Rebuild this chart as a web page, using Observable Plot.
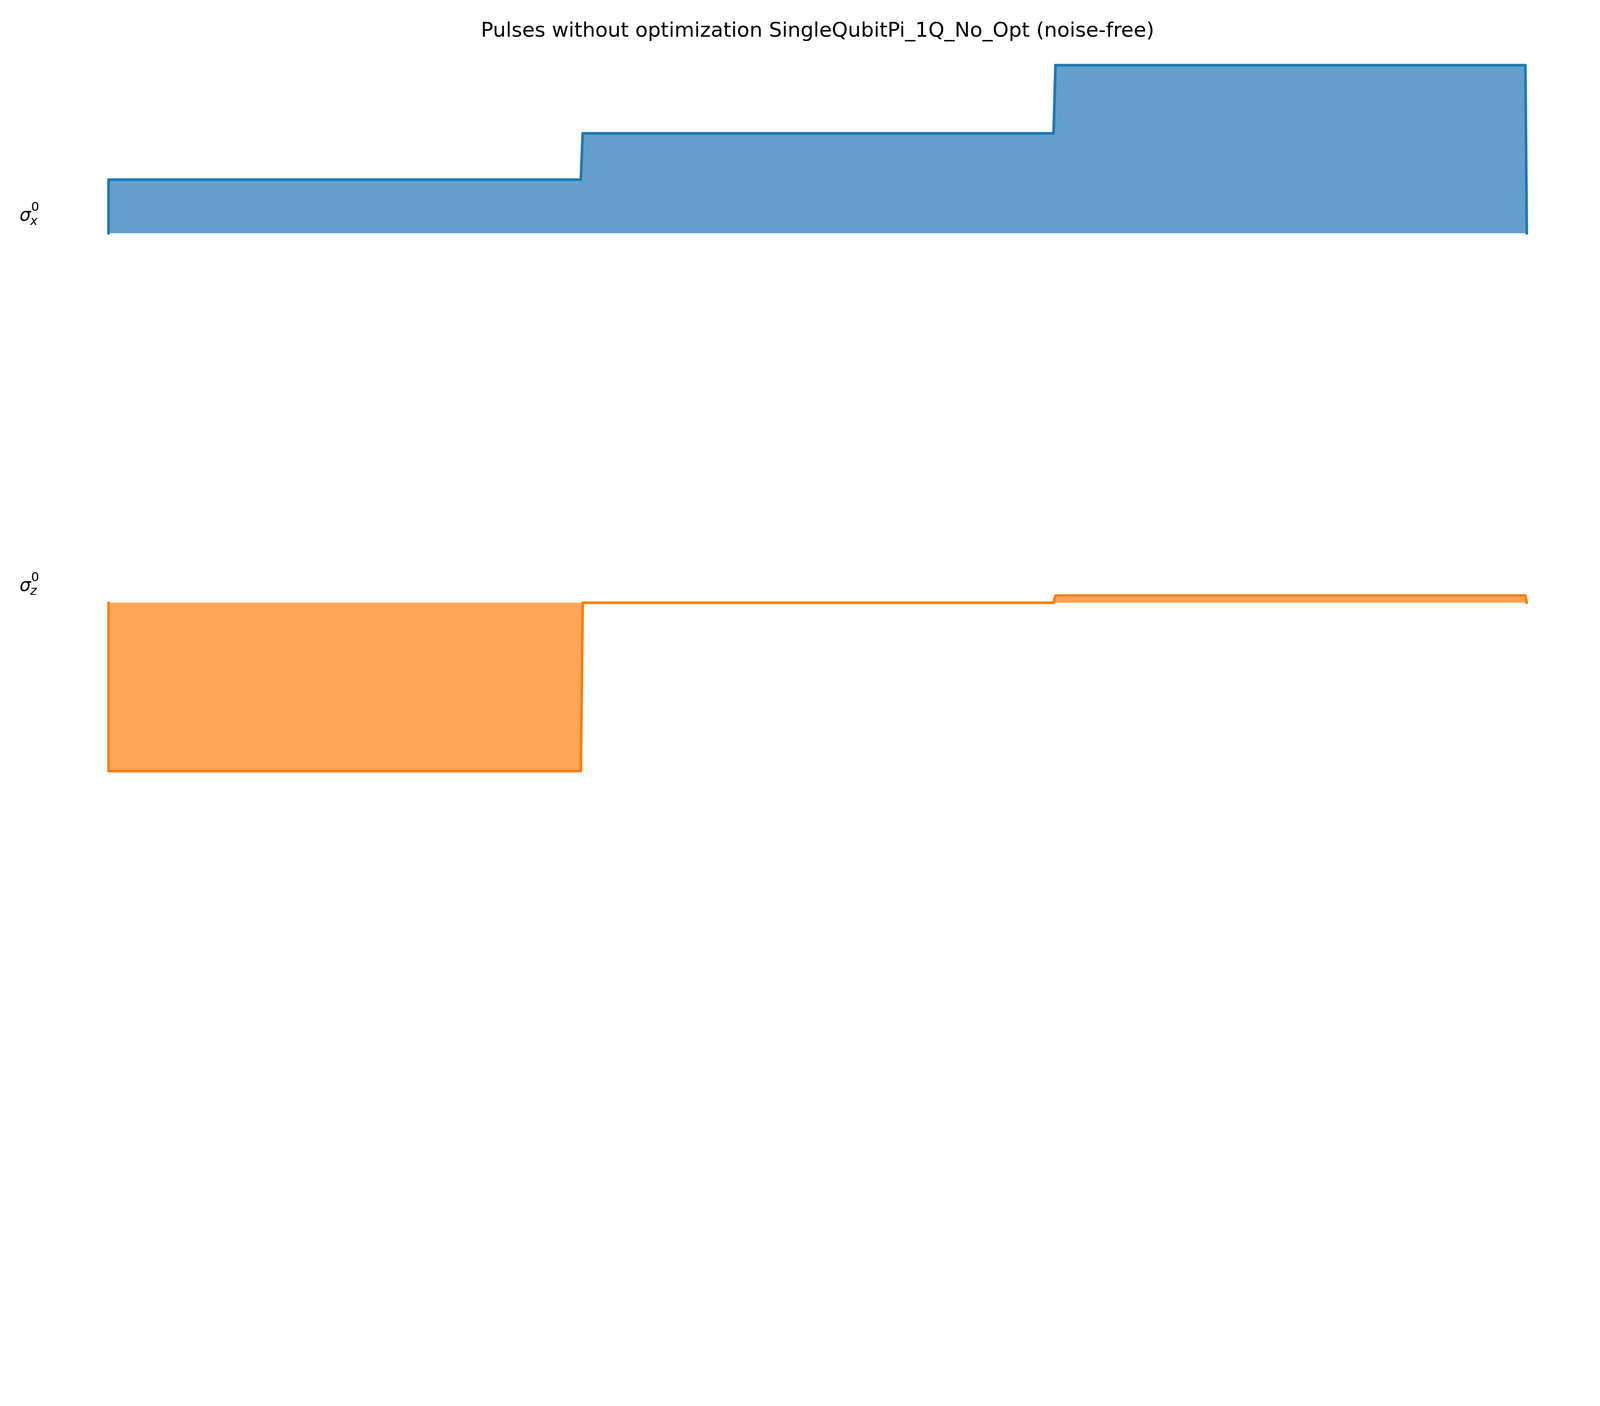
<!DOCTYPE html>
<html>
<head>
<meta charset="utf-8">
<script src="https://cdn.jsdelivr.net/npm/d3@7"></script>
<script src="https://cdn.jsdelivr.net/npm/@observablehq/plot@0.6"></script>
<style>
  html, body { margin: 0; background: #fff; font-family: "DejaVu Sans", sans-serif; overflow: hidden; }
  #wrap { position: absolute; left: 0; top: 0; width: 7200px; height: 3600px; transform-origin: 0 0; }
  #title { position: absolute; left: 488px; width: 6382px; top: 80px; text-align: center; font-size: 92px; }
  .lab { position: absolute; font-family: "DejaVu Sans"; font-size: 80px; font-style: italic; }
  .lab .s { position: absolute; font-style: normal; font-size: 56px; }
  .lab .b { position: absolute; font-size: 56px; }
  #p1 { position: absolute; left: 0; top: 240px; }
  #p2 { position: absolute; left: 0; top: 1800px; }
  #p1 svg, #p2 svg { max-width: none; }
</style>
</head>
<body>
<div id="wrap">
  <div id="title">Pulses without optimization SingleQubitPi_1Q_No_Opt (noise-free)</div>
  <div class="lab" style="left:88px; top:920px;">σ<span class="s" style="left:52px; top:-22px;">0</span><span class="b" style="left:48px; top:40px;">x</span></div>
  <div class="lab" style="left:88px; top:2585px;">σ<span class="s" style="left:52px; top:-22px;">0</span><span class="b" style="left:48px; top:40px;">z</span></div>
  <div id="p1"></div>
  <div id="p2"></div>
</div>
<script>
// pulse time samples (three equal time slots, short ramps between)
const times = [0, 0.0, 0.999, 1.003, 1.999, 2.003, 2.997, 3.0];
const sigmaX = [0, 0.32, 0.32, 0.595, 0.595, 1.0, 1.0, 0];
const sigmaZ = [0, -1.0, -1.0, 0.0, 0.0, 0.043, 0.043, 0];

function pulsePlot(values, color, fill, domain, height, mt, mb) {
  const data = times.map((t, i) => ({t, v: values[i]}));
  return Plot.plot({
    width: 7200,
    height: height,
    marginLeft: 488,
    marginRight: 330,
    marginTop: mt,
    marginBottom: mb,
    x: {domain: [0, 3], axis: null},
    y: {domain: domain, axis: null},
    marks: [
      Plot.areaY(data, {x: "t", y: "v", fill: fill}),
      Plot.lineY(data, {x: "t", y: "v", stroke: color, strokeWidth: 12})
    ]
  });
}

d3.select("#p1").append(() => pulsePlot(sigmaX, "#1f77b4", "#62a0ca", [0, 1], 1560, 53, 750));
d3.select("#p2").append(() => pulsePlot(sigmaZ, "#ff7f0e", "#ffa657", [-1, 0.043], 1800, 880, 130));

// fit the 7200x3600 layout into whatever viewport the page gets
function fit() {
  const s = Math.min(window.innerWidth / 7200, window.innerHeight / 3600);
  document.getElementById("wrap").style.transform = `scale(${s})`;
}
fit();
window.addEventListener("resize", fit);
</script>
</body>
</html>
